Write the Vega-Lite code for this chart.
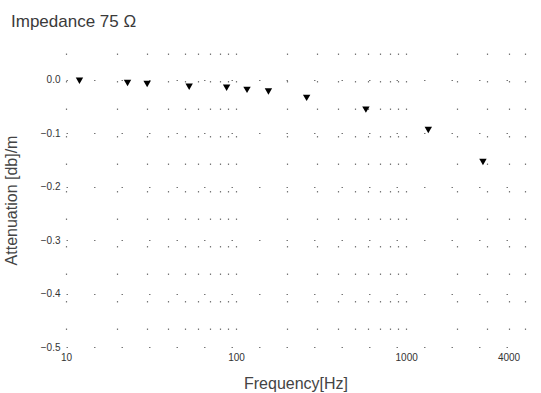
{
  "$schema": "https://vega.github.io/schema/vega-lite/v6.json",
  "width": 459,
  "height": 294,
  "autosize": "none",
  "padding": {"left": 66, "top": 53, "right": 16, "bottom": 46},
  "background": "white",
  "title": {
    "text": "Impedance 75  Ω",
    "anchor": "start",
    "frame": "group",
    "dx": -55,
    "offset": 22,
    "font": "Liberation Sans",
    "fontSize": 17,
    "fontWeight": "normal",
    "color": "#3a3a3a"
  },
  "config": {
    "view": {"stroke": null},
    "axis": {
      "labelFont": "Liberation Sans",
      "titleFont": "Liberation Sans",
      "labelColor": "#333333",
      "titleColor": "#444444",
      "titleFontWeight": "normal",
      "labelFontSize": 10,
      "titleFontSize": 16,
      "domain": false,
      "ticks": false,
      "gridColor": "#777777",
      "gridDash": [1.5, 26],
      "gridWidth": 1.2
    }
  },
  "data": {
    "values": [
      {"freq": 12, "atten": -0.002},
      {"freq": 23, "atten": -0.006},
      {"freq": 30, "atten": -0.008},
      {"freq": 53, "atten": -0.013},
      {"freq": 88, "atten": -0.015},
      {"freq": 116, "atten": -0.019},
      {"freq": 155, "atten": -0.022},
      {"freq": 260, "atten": -0.034},
      {"freq": 580, "atten": -0.056},
      {"freq": 1350, "atten": -0.094},
      {"freq": 2830, "atten": -0.154}
    ]
  },
  "mark": {"type": "point", "shape": "triangle-down", "filled": true, "color": "black", "size": 55, "opacity": 1},
  "encoding": {
    "x": {
      "field": "freq",
      "type": "quantitative",
      "title": "Frequency[Hz]",
      "scale": {"type": "log", "domain": [10, 5000], "nice": false},
      "axis": {
        "values": [10, 20, 30, 40, 50, 60, 70, 80, 90, 100, 200, 300, 400, 500, 600, 700, 800, 900, 1000, 2000, 3000, 4000, 5000],
        "labelExpr": "indexof([10,100,1000,4000], datum.value) >= 0 ? format(datum.value, 'd') : ''",
        "labelPadding": 5,
        "titleBaseline": "alphabetic",
        "titleY": 41,
        "labelOverlap": false,
        "labelFlush": false
      }
    },
    "y": {
      "field": "atten",
      "type": "quantitative",
      "title": "Attenuation [db]/m",
      "scale": {"domain": [-0.5, 0.05], "nice": false, "zero": false},
      "axis": {
        "values": [0, -0.1, -0.2, -0.3, -0.4, -0.5],
        "format": ".1f",
        "labelPadding": 6,
        "titleX": -47
      }
    }
  }
}
